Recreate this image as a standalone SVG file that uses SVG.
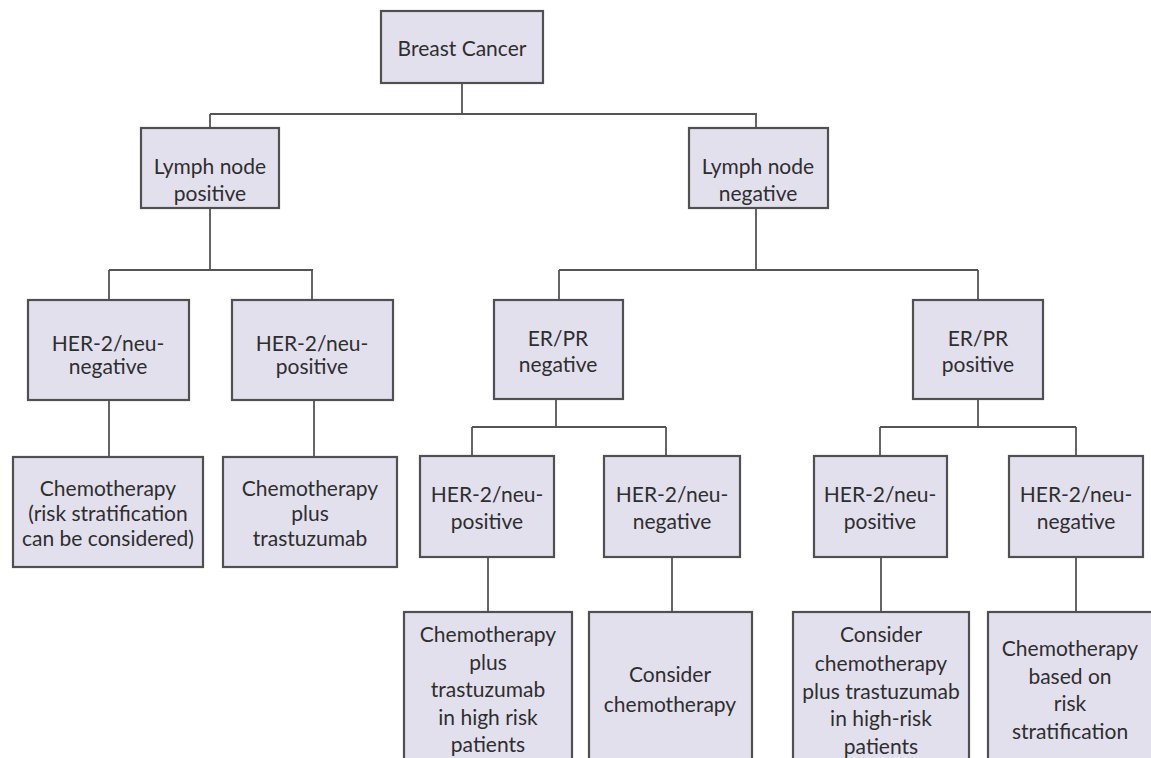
<svg xmlns="http://www.w3.org/2000/svg" width="1151" height="758" viewBox="0 0 1151 758">
<style>
.box{fill:#e3e0ee;stroke:#505050;stroke-width:2.2}
.t{font-family:Lato,"Open Sans",sans-serif;font-size:21px;fill:#2e2e2e;text-anchor:middle;dominant-baseline:central}
.c{fill:none;stroke:#555;stroke-width:1.8}
</style>
<rect width="1151" height="758" fill="#fff"/>
<g id="connectors">
<path class="c" d="M462 83V114M210 114H757M210 114V128M756 114V128"/>
<path class="c" d="M210 208V270M109 270H313M109 270V300M312 270V300"/>
<path class="c" d="M109 400V457M314 400V457"/>
<path class="c" d="M756 208V270M559 270H978M559 270V300M978 270V300"/>
<path class="c" d="M556 399V427M472 427H666M472 427V456M666 427V456"/>
<path class="c" d="M978 399V427M880 427H1076M880 427V456M1076 427V456"/>
<path class="c" d="M488 557V612M672 557V612M881 557V612M1076 557V612"/>
</g>
<g id="n-breast"><rect class="box" x="381" y="11" width="162" height="72"/><text class="t" x="462" y="47">Breast Cancer</text></g>
<g id="n-lnpos"><rect class="box" x="141" y="128" width="138" height="80"/><text class="t" x="210" y="165">Lymph node</text><text class="t" x="210" y="192">positive</text></g>
<g id="n-lnneg"><rect class="box" x="689" y="128" width="139" height="80"/><text class="t" x="758" y="165">Lymph node</text><text class="t" x="758" y="192">negative</text></g>
<g id="n-her-neg1"><rect class="box" x="28" y="300" width="161" height="100"/><text class="t" x="108" y="342">HER-2/neu-</text><text class="t" x="108" y="365">negative</text></g>
<g id="n-her-pos1"><rect class="box" x="232" y="300" width="161" height="100"/><text class="t" x="312" y="342">HER-2/neu-</text><text class="t" x="312" y="365">positive</text></g>
<g id="n-erneg"><rect class="box" x="494" y="300" width="129" height="99"/><text class="t" x="558" y="337">ER/PR</text><text class="t" x="558" y="363">negative</text></g>
<g id="n-erpos"><rect class="box" x="913" y="300" width="130" height="99"/><text class="t" x="978" y="337">ER/PR</text><text class="t" x="978" y="363">positive</text></g>
<g id="n-chemo1"><rect class="box" x="13" y="457" width="190" height="110"/><text class="t" x="108" y="487">Chemotherapy</text><text class="t" x="108" y="512">(risk stratification</text><text class="t" x="108" y="537">can be considered)</text></g>
<g id="n-chemo2"><rect class="box" x="223" y="457" width="174" height="110"/><text class="t" x="310" y="487">Chemotherapy</text><text class="t" x="310" y="512">plus</text><text class="t" x="310" y="537">trastuzumab</text></g>
<g id="n-her-pos2"><rect class="box" x="420" y="456" width="134" height="101"/><text class="t" x="487" y="493">HER-2/neu-</text><text class="t" x="487" y="520">positive</text></g>
<g id="n-her-neg2"><rect class="box" x="604" y="456" width="136" height="101"/><text class="t" x="672" y="493">HER-2/neu-</text><text class="t" x="672" y="520">negative</text></g>
<g id="n-her-pos3"><rect class="box" x="814" y="456" width="133" height="101"/><text class="t" x="880" y="493">HER-2/neu-</text><text class="t" x="880" y="520">positive</text></g>
<g id="n-her-neg3"><rect class="box" x="1009" y="456" width="134" height="101"/><text class="t" x="1076" y="493">HER-2/neu-</text><text class="t" x="1076" y="520">negative</text></g>
<g id="n-chemo3"><rect class="box" x="404" y="612" width="168" height="160"/><text class="t" x="488" y="633">Chemotherapy</text><text class="t" x="488" y="661">plus</text><text class="t" x="488" y="688">trastuzumab</text><text class="t" x="488" y="716">in high risk</text><text class="t" x="488" y="743">patients</text></g>
<g id="n-chemo4"><rect class="box" x="589" y="612" width="163" height="160"/><text class="t" x="670" y="673">Consider</text><text class="t" x="670" y="703">chemotherapy</text></g>
<g id="n-chemo5"><rect class="box" x="793" y="612" width="176" height="160"/><text class="t" x="881" y="633">Consider</text><text class="t" x="881" y="662">chemotherapy</text><text class="t" x="881" y="690">plus trastuzumab</text><text class="t" x="881" y="717">in high-risk</text><text class="t" x="881" y="745">patients</text></g>
<g id="n-chemo6"><rect class="box" x="988" y="612" width="175" height="160"/><text class="t" x="1070" y="647">Chemotherapy</text><text class="t" x="1070" y="675">based on</text><text class="t" x="1070" y="702">risk</text><text class="t" x="1070" y="730">stratification</text></g>
</svg>
